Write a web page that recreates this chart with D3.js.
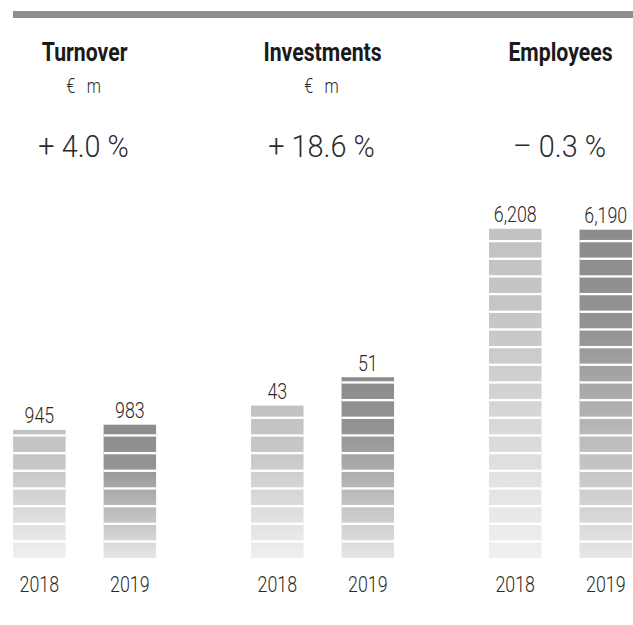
<!DOCTYPE html>
<html>
<head>
<meta charset="utf-8">
<script src="https://cdn.jsdelivr.net/npm/d3@7"></script>
<style>
  body { margin: 0; background: #fff; }
  text { font-family: Roboto, "Liberation Sans", sans-serif; }
</style>
</head>
<body>
<div id="chart"></div>
<script>
// data
var groups = ["Turnover", "Investments", "Employees"];
var units = ["€\u2002\u2009m", "€\u2002\u2009m", ""];
var changes = ["+ 4.0 %", "+ 18.6 %", "\u2013 0.3 %"];
var years = ["2018", "2019"];
var values2018 = [945, 43, 6208];
var values2019 = [983, 51, 6190];

var w = 633, h = 625;
var bottom = 558;
var pitch = 17.67, gap = 2.3;

var svg = d3.select("#chart").append("svg").attr("width", w).attr("height", h);

// each group has its own value scale
var domainMax = [2640, 101, 6750];
var yScales = domainMax.map(function(m){
    return d3.scaleLinear().domain([0, m]).range([bottom, 200]);
});

var xGroup = d3.scalePoint().domain(groups).range([84.6, 560.5]);
var xYear = d3.scaleBand().domain(years).range([-71.5, 71.5]).paddingInner(0.42);

// gradients
var defs = svg.append("defs");
var grads = {
    "2018": [["0%", "#c2c2c2"], ["30%", "#c7c7c7"], ["100%", "#f0f0f0"]],
    "2019": [["0%", "#8c8c8c"], ["30%", "#939393"], ["100%", "#e6e6e6"]]
};
years.forEach(function(y){
    var lg = defs.append("linearGradient").attr("id", "g" + y)
        .attr("x1", 0).attr("y1", 0).attr("x2", 0).attr("y2", 1);
    grads[y].forEach(function(s){
        lg.append("stop").attr("offset", s[0]).attr("stop-color", s[1]);
    });
});

// condensed look: squeeze the text horizontally
function label(sel, x, y, txt, size, weight, color, sx){
    return sel.append("text")
        .attr("transform", "translate(" + x + "," + y + ") scale(" + sx + ",1)")
        .attr("text-anchor", "middle")
        .attr("font-size", size).attr("font-weight", weight)
        .attr("fill", color).text(txt);
}

// top rule
svg.append("rect").attr("x", 13).attr("y", 11).attr("width", w - 13).attr("height", 7).attr("fill", "#8e8e8e");

var fmt = d3.format(",");

groups.forEach(function(name, i){
    var cx = xGroup(name);
    var g = svg.append("g").attr("transform", "translate(" + cx + ",0)");

    label(g, 0, 61, name, 25, 700, "#1a1a1a", 0.85);
    if (units[i]) label(g, -1, 93, units[i], 20, 300, "#2a2a2a", 0.8);
    label(g, -1, 157, changes[i], 31, 300, "#2a2a2a", 0.93);

    var vals = [values2018[i], values2019[i]];
    var y = yScales[i];
    vals.forEach(function(v, j){
        var yr = years[j];
        var x0 = xYear(yr), bw = xYear.bandwidth();
        var top = y(v);
        g.append("rect").attr("x", x0).attr("y", top).attr("width", bw)
            .attr("height", bottom - top).attr("fill", "url(#g" + yr + ")");
        // white stripes
        for (var k = 1; bottom - k * pitch + gap > top; k++) {
            var gy = Math.max(bottom - k * pitch, top);
            g.append("rect").attr("x", x0).attr("y", gy).attr("width", bw)
                .attr("height", bottom - k * pitch + gap - gy).attr("fill", "#fff");
        }
        label(g, x0 + bw / 2, top - 6.5, fmt(v), 22, 300, "#2a2a2a", 0.81);
        label(g, x0 + bw / 2, 592, yr, 22, 300, "#2a2a2a", 0.81);
    });
});
</script>
</body>
</html>
